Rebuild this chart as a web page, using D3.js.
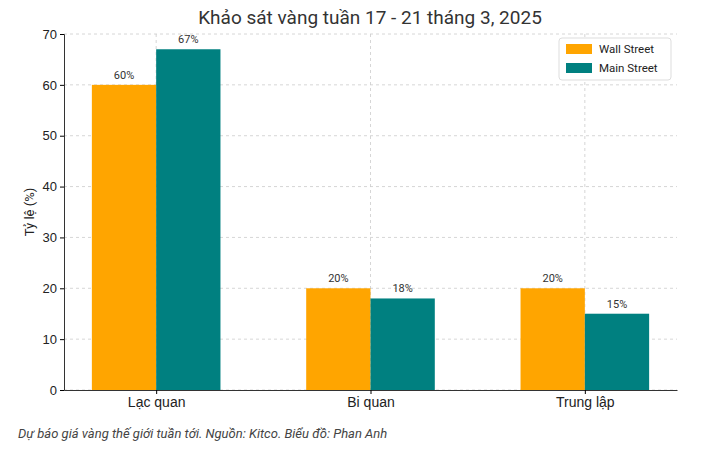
<!DOCTYPE html>
<html><head><meta charset="utf-8">
<script src="https://cdn.jsdelivr.net/npm/d3@7"></script>
<style>body{margin:0;background:#fff;font-family:Roboto,"DejaVu Sans",sans-serif}</style>
</head><body><svg id="c" width="703" height="453"></svg>
<script>
const categories=["Lạc quan","Bi quan","Trung lập"];
const wallStreet=[60,20,20];
const mainStreet=[67,18,15];
const yTicks=[0,10,20,30,40,50,60,70];
const seriesNames=["Wall Street","Main Street"];
const colors=["#FFA500","#008080"];

const svg=d3.select("#c");
const L=64,R=677,T=34,B=390;
const x=d3.scaleLinear().domain([-0.43,2.43]).range([L,R]);
const y=d3.scaleLinear().domain([0,70]).range([B,T]);
const bw=x(0.3)-x(0);
const g=svg.append("g");
// grid
g.selectAll(".hg").data(yTicks).join("line").attr("x1",L).attr("x2",R).attr("y1",d=>y(d)).attr("y2",d=>y(d)).attr("stroke","#ccc").attr("stroke-dasharray","3,3").attr("stroke-width",0.8);
g.selectAll(".vg").data(categories).join("line").attr("x1",(d,i)=>x(i)).attr("x2",(d,i)=>x(i)).attr("y1",T).attr("y2",B).attr("stroke","#ccc").attr("stroke-dasharray","3,3").attr("stroke-width",0.8);
[wallStreet,mainStreet].forEach((s,k)=>{
  const off=k===0?-0.3:0;
  g.selectAll(".b"+k).data(s).join("rect").attr("x",(d,i)=>x(i+off)).attr("width",bw).attr("y",d=>y(d)).attr("height",d=>B-y(d)).attr("fill",colors[k]);
  g.selectAll(".t"+k).data(s).join("text").attr("x",(d,i)=>x(i+off+0.15)).attr("y",d=>y(d)-6).attr("text-anchor","middle").attr("font-size",11).attr("fill","#333").text(d=>d+"%");
});
// axes
svg.append("g").attr("transform",`translate(${L},0)`).call(d3.axisLeft(y).tickValues(yTicks).tickSize(4)).call(a=>{a.selectAll("text").attr("font-size",13).attr("fill","#222");a.select(".domain").attr("stroke","#333");});
svg.append("g").attr("transform",`translate(0,${B})`).call(d3.axisBottom(x).tickValues([0,1,2]).tickFormat(i=>categories[i]).tickSize(4).tickSizeOuter(0)).call(a=>{a.selectAll("text").attr("font-size",14).attr("fill","#222");a.select(".domain").attr("stroke","#333");});
svg.append("text").attr("x",0).attr("y",0).attr("transform",`translate(34,${(T+B)/2}) rotate(-90)`).attr("text-anchor","middle").attr("font-size",13).attr("fill","#222").text("Tỷ lệ (%)");
svg.append("text").attr("x",370).attr("y",24).attr("text-anchor","middle").attr("font-size",19).attr("fill","#333").text("Khảo sát vàng tuần 17 - 21 tháng 3, 2025");
// legend
const lg=svg.append("g").attr("transform","translate(559,38)");
lg.append("rect").attr("width",112).attr("height",42).attr("fill","#fff").attr("stroke","#ddd").attr("rx",3);
seriesNames.forEach((n,i)=>{
  lg.append("rect").attr("x",7).attr("y",6+i*19).attr("width",26).attr("height",10).attr("fill",colors[i]);
  lg.append("text").attr("x",40).attr("y",15+i*19).attr("font-size",11.5).attr("fill","#222").text(n);
});
svg.append("text").attr("x",18).attr("y",438).attr("font-size",13).attr("font-style","italic").attr("fill","#444").text("Dự báo giá vàng thế giới tuần tới. Nguồn: Kitco. Biểu đồ: Phan Anh");
</script></body></html>
